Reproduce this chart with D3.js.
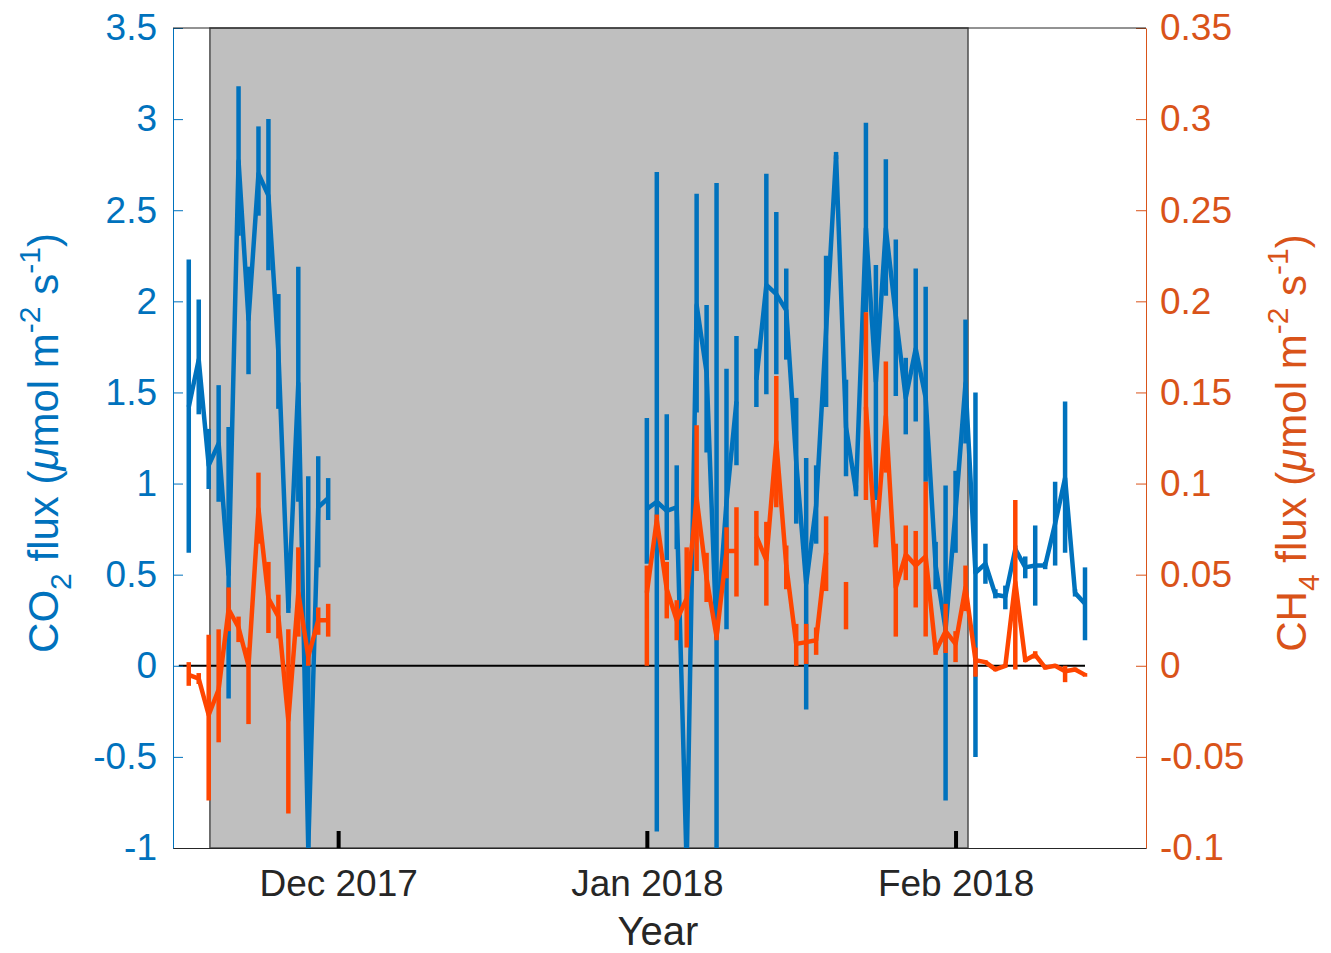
<!DOCTYPE html>
<html>
<head>
<meta charset="utf-8">
<script src="https://cdn.jsdelivr.net/npm/d3@7"></script>
<style>
  body { margin: 0; background: #fff; }
  text { font-family: "Liberation Sans", Arial, Helvetica, sans-serif; }
</style>
</head>
<body>
<svg id="chart" width="1331" height="953"></svg>
<script>
// daily flux means and error bar bounds
const dates = [
  "2017-11-16","2017-11-17","2017-11-18","2017-11-19","2017-11-20","2017-11-21","2017-11-22","2017-11-23",
  "2017-11-24","2017-11-25","2017-11-26","2017-11-27","2017-11-28","2017-11-29","2017-11-30",
  "2018-01-01","2018-01-02","2018-01-03","2018-01-04","2018-01-05","2018-01-06","2018-01-07","2018-01-08",
  "2018-01-09","2018-01-10","2018-01-11","2018-01-12","2018-01-13","2018-01-14","2018-01-15","2018-01-16",
  "2018-01-17","2018-01-18","2018-01-19","2018-01-20","2018-01-21","2018-01-22","2018-01-23","2018-01-24",
  "2018-01-25","2018-01-26","2018-01-27","2018-01-28","2018-01-29","2018-01-30","2018-01-31",
  "2018-02-01","2018-02-02","2018-02-03","2018-02-04","2018-02-05","2018-02-06","2018-02-07","2018-02-08",
  "2018-02-09","2018-02-10","2018-02-11","2018-02-12","2018-02-13","2018-02-14"
];

const co2 = [
  1.42, 1.68, 1.10, 1.22, 0.50, 2.77, 1.90, 2.70, 2.58, 1.72, 0.32, 1.55, -1.00, 0.87, 0.92,
  0.86, 0.90, 0.85, 0.87, -1.10, 1.98, 1.61, 0.16, 0.90, 1.45, null, 1.57, 2.09, 2.04, 1.95, 1.12,
  0.45, 0.88, 1.84, 2.80, 1.31, 0.96, 2.40, 1.56, 2.40, 1.92, 1.47, 1.74, 1.47, 0.55, 0.20,
  0.85, 1.55, 0.51, 0.56, 0.39, 0.38, 0.64, 0.54, 0.55, 0.55, 0.78, 1.03, 0.40, 0.34
];
const co2Lo = [
  0.62, 1.38, 0.97, 0.90, -0.18, 2.36, 1.60, 2.47, 2.17, 1.41, 0.29, 0.90, -3.00, 0.54, 0.80,
  0.56, -0.91, 0.58, 0.64, -1.50, 1.39, 1.17, -2.33, 0.20, 1.10, null, 1.42, 1.49, 1.60, 1.68, 0.78,
  -0.24, 0.67, 1.42, 2.78, 1.04, 0.93, 1.94, 0.91, 2.03, 1.48, 1.27, 1.34, 1.01, 0.42, -0.74,
  0.62, 1.22, -0.50, 0.45, 0.37, 0.31, 0.62, 0.48, 0.33, 0.53, 0.55, 0.62, 0.38, 0.14
];
const co2Hi = [
  2.23, 2.01, 1.30, 1.54, 1.31, 3.18, 2.19, 2.96, 3.00, 2.04, 0.55, 2.19, 1.04, 1.15, 1.03,
  1.36, 2.71, 1.38, 1.10, -0.70, 2.59, 1.98, 2.65, 1.63, 1.81, null, 1.74, 2.70, 2.49, 2.18, 1.47,
  1.14, 1.10, 2.25, 2.82, 1.57, 0.99, 2.98, 2.20, 2.78, 2.34, 1.69, 2.18, 2.08, 0.68, 0.99,
  1.07, 1.90, 1.50, 0.67, 0.42, 0.44, 0.66, 0.60, 0.77, 0.57, 1.01, 1.45, 0.42, 0.54
];

const ch4 = [
  -0.005, -0.007, -0.027, -0.013, 0.031, 0.021, 0.000, 0.086, 0.037, 0.027, -0.030, 0.040, 0.005, 0.025, 0.025,
  0.040, 0.080, 0.042, 0.025, 0.037, 0.092, 0.048, 0.016, 0.063, 0.063, null, 0.071, 0.058, 0.123, 0.055, 0.012,
  0.013, 0.014, 0.062, null, 0.033, null, 0.142, 0.067, 0.137, 0.043, 0.061, 0.055, 0.060, 0.008, 0.019,
  0.012, 0.043, 0.003, 0.002, -0.002, 0.000, 0.046, 0.003, 0.006, -0.001, 0.000, -0.003, -0.002, -0.005
];
const ch4Lo = [
  -0.011, -0.010, -0.074, -0.042, 0.019, 0.013, -0.032, 0.067, 0.018, 0.015, -0.081, 0.016, 0.000, 0.017, 0.016,
  0.000, 0.077, 0.026, 0.014, 0.010, 0.052, 0.035, 0.014, 0.048, 0.038, null, 0.055, 0.033, 0.087, 0.042, 0.000,
  0.001, 0.006, 0.041, null, 0.020, null, 0.091, 0.065, 0.106, 0.016, 0.047, 0.032, 0.016, 0.006, 0.007,
  0.002, 0.030, -0.006, 0.001, -0.003, -0.001, -0.002, 0.002, 0.004, -0.002, -0.001, -0.009, -0.003, -0.006
];
const ch4Hi = [
  0.002, -0.004, 0.017, 0.020, 0.043, 0.027, 0.010, 0.106, 0.057, 0.039, 0.020, 0.065, 0.010, 0.032, 0.034,
  0.055, 0.083, 0.057, 0.036, 0.065, 0.132, 0.062, 0.018, 0.076, 0.087, null, 0.085, 0.079, 0.159, 0.066, 0.023,
  0.023, 0.021, 0.082, null, 0.046, null, 0.194, 0.069, 0.167, 0.067, 0.077, 0.074, 0.101, 0.010, 0.034,
  0.019, 0.055, 0.010, 0.003, -0.001, 0.001, 0.091, 0.004, 0.008, 0.000, 0.001, 0.000, -0.001, -0.004
];

// axes
const co2Ticks = [-1, -0.5, 0, 0.5, 1, 1.5, 2, 2.5, 3, 3.5];
const ch4Ticks = [-0.1, -0.05, 0, 0.05, 0.1, 0.15, 0.2, 0.25, 0.3, 0.35];
const monthTicks = ["2017-12-01", "2018-01-01", "2018-02-01"];
const xLimits = ["2017-11-14T10:00:00Z", "2018-02-20T03:00:00Z"];
const shadeSpan = ["2017-11-18T03:00:00Z", "2018-02-02T06:00:00Z"];
const zeroSpan = ["2017-11-15", "2018-02-14"];

const blue = "#0072BD", orange = "#FF4500", orangeAxis = "#D95319", dark = "#262626";
const plotL = 173, plotR = 1146, plotT = 28, plotB = 848;
const lw = 4.5;

const parse = s => new Date(s);
const svg = d3.select("#chart");

const x = d3.scaleUtc().domain(xLimits.map(parse)).range([plotL, plotR]);
const yL = d3.scaleLinear().domain([-1, 3.5]).range([plotB, plotT]);
const yR = d3.scaleLinear().domain([-0.1, 0.35]).range([plotB, plotT]);

svg.append("defs").append("clipPath").attr("id", "plot")
  .append("rect").attr("x", plotL).attr("y", plotT)
  .attr("width", plotR - plotL).attr("height", plotB - plotT);

// shaded period
svg.append("rect")
  .attr("x", x(parse(shadeSpan[0]))).attr("y", plotT)
  .attr("width", x(parse(shadeSpan[1])) - x(parse(shadeSpan[0])))
  .attr("height", plotB - plotT)
  .attr("fill", "#bfbfbf").attr("stroke", "#4d4d4d").attr("stroke-width", 1.5);

// zero line
svg.append("line")
  .attr("x1", x(parse(zeroSpan[0]))).attr("x2", x(parse(zeroSpan[1])))
  .attr("y1", yL(0)).attr("y2", yL(0))
  .attr("stroke", "#000").attr("stroke-width", 2);

// split into runs of consecutive days so the December gap is not joined
function segments(vals, lo, hi) {
  const rows = dates.map((d, i) => ({ t: parse(d), v: vals[i], lo: lo[i], hi: hi[i] }));
  const out = [];
  let cur = [];
  rows.forEach((r, i) => {
    if (i > 0 && (r.t - rows[i - 1].t) > 1.5 * 864e5) { out.push(cur); cur = []; }
    cur.push(r);
  });
  out.push(cur);
  return out;
}

function drawSeries(vals, lo, hi, y, color) {
  const g = svg.append("g").attr("clip-path", "url(#plot)");
  const segs = segments(vals, lo, hi);
  const rows = segs.flat().filter(r => r.v != null);

  g.selectAll("line.bar").data(rows).enter().append("line")
    .attr("x1", d => x(d.t)).attr("x2", d => x(d.t))
    .attr("y1", d => y(d.lo)).attr("y2", d => y(d.hi))
    .attr("stroke", color).attr("stroke-width", lw);

  const line = d3.line().defined(d => d.v != null)
    .x(d => x(d.t)).y(d => y(d.v));

  g.selectAll("path.series").data(segs).enter().append("path")
    .attr("d", line)
    .attr("fill", "none").attr("stroke", color)
    .attr("stroke-width", lw).attr("stroke-linejoin", "round");
}

drawSeries(co2, co2Lo, co2Hi, yL, blue);
drawSeries(ch4, ch4Lo, ch4Hi, yR, orange);

const fmt = d => String(d);

function styleAxis(g, color, size) {
  g.attr("font-size", null).attr("font-family", null);
  g.select(".domain").attr("stroke", color).attr("stroke-width", 1);
  g.selectAll(".tick line").attr("stroke", color);
  g.selectAll(".tick text").attr("fill", color).style("font-size", size + "px");
}

const gL = svg.append("g").attr("transform", `translate(${plotL},0)`)
  .call(d3.axisLeft(yL).tickValues(co2Ticks).tickFormat(fmt)
    .tickSize(-10).tickSizeOuter(0).tickPadding(16));
styleAxis(gL, blue, 37);

const gR = svg.append("g").attr("transform", `translate(${plotR},0)`)
  .call(d3.axisRight(yR).tickValues(ch4Ticks).tickFormat(fmt)
    .tickSize(-10).tickSizeOuter(0).tickPadding(14));
styleAxis(gR, orangeAxis, 37);

const gB = svg.append("g").attr("transform", `translate(0,${plotB})`)
  .call(d3.axisBottom(x).tickValues(monthTicks.map(parse)).tickFormat(d3.utcFormat("%b %Y"))
    .tickSize(-17).tickSizeOuter(0).tickPadding(22));
styleAxis(gB, dark, 37);
gB.selectAll(".tick line").attr("stroke", "#000").attr("stroke-width", 4);

// top border
svg.append("line").attr("x1", plotL).attr("x2", plotR).attr("y1", plotT).attr("y2", plotT)
  .attr("stroke", dark).attr("stroke-width", 1);

// labels
svg.append("text").attr("x", 658).attr("y", 945).attr("text-anchor", "middle")
  .attr("fill", dark).style("font-size", "40px").text("Year");

function axisLabel(cx, cy, parts, color) {
  const t = svg.append("text")
    .attr("transform", `translate(${cx},${cy}) rotate(-90)`)
    .attr("text-anchor", "middle").attr("fill", color).style("font-size", "42px");
  let shift = 0;
  parts.forEach(p => {
    const target = p.sub ? 13 : p.sup ? -18 : 0;
    t.append("tspan").attr("dy", target - shift)
      .style("font-size", (p.sub || p.sup) ? "30px" : null)
      .style("font-style", p.it ? "italic" : null)
      .text(p.t);
    shift = target;
  });
}

const unitParts = [
  { t: " flux (" }, { t: "\u03BC", it: true }, { t: "mol m" }, { t: "-2", sup: true },
  { t: " s" }, { t: "-1", sup: true }, { t: ")" }
];
axisLabel(58, 443, [{ t: "CO" }, { t: "2", sub: true }].concat(unitParts), blue);
axisLabel(1306, 443, [{ t: "CH" }, { t: "4", sub: true }].concat(unitParts), orangeAxis);
</script>
</body>
</html>
